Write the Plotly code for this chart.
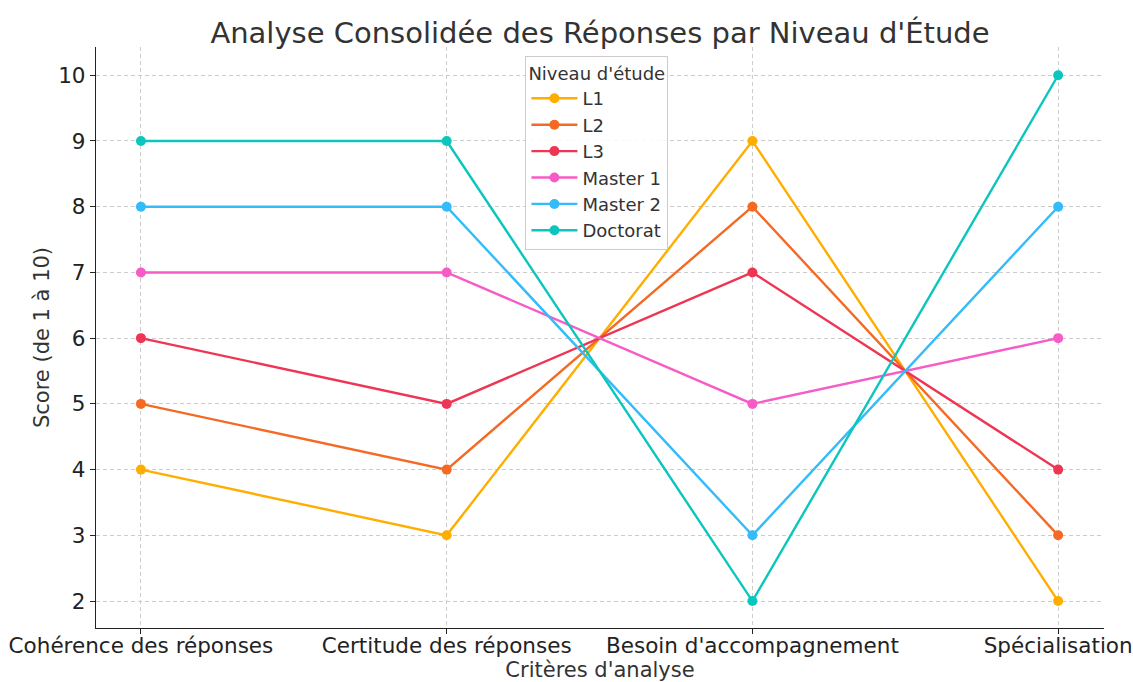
import plotly.graph_objects as go

criteres = ["Cohérence des réponses", "Certitude des réponses", "Besoin d'accompagnement", "Spécialisation"]
niveaux = ["L1", "L2", "L3", "Master 1", "Master 2", "Doctorat"]
l1 = [4, 3, 9, 2]
l2 = [5, 4, 8, 3]
l3 = [6, 5, 7, 4]
master1 = [7, 7, 5, 6]
master2 = [8, 8, 3, 8]
doctorat = [9, 9, 2, 10]
series = [l1, l2, l3, master1, master2, doctorat]
colors = ["#FFAE00", "#F46A25", "#EE3553", "#F75BC6", "#33BBFA", "#0CC6BE"]

fig = go.Figure()
for name, vals, c in zip(niveaux, series, colors):
    fig.add_trace(go.Scatter(
        x=criteres, y=vals, name=name, mode="lines+markers",
        line=dict(color=c, width=2.4), marker=dict(color=c, size=10),
    ))

font = "DejaVu Sans, sans-serif"
fig.update_layout(
    width=1133, height=682,
    paper_bgcolor="white", plot_bgcolor="white",
    font=dict(family=font, color="#333333"),
    margin=dict(l=96, r=29, t=47, b=54, autoexpand=False),
    title=dict(text="Analyse Consolidée des Réponses par Niveau d'Étude",
               xref="paper", x=0.5, xanchor="center", y=0.967, yanchor="top",
               font=dict(size=29, color="#333333"), automargin=False),
    legend=dict(title=dict(text="Niveau d'étude", font=dict(size=18)),
                x=0.426, y=0.985, xanchor="left", yanchor="top",
                bordercolor="#CCCCCC", borderwidth=1, bgcolor="rgba(255,255,255,0.85)",
                font=dict(size=18), tracegroupgap=0, itemwidth=46),
    showlegend=True,
)
fig.update_xaxes(
    title=dict(text="Critères d'analyse", font=dict(size=21), standoff=2),
    range=[-0.147, 3.15], showline=True, linecolor="#222222", linewidth=1.3,
    ticks="outside", ticklen=5, tickcolor="#222222", automargin=False,
    ticklabelstandoff=-7,
    showgrid=True, gridcolor="#CCCCCC", griddash="4px,3px", gridwidth=1,
    tickfont=dict(size=21.5, color="#222222"), zeroline=False,
)
fig.update_yaxes(
    title=dict(text="Score (de 1 à 10)", font=dict(size=21), standoff=2),
    range=[1.59, 10.43], dtick=1, showline=True, linecolor="#222222", linewidth=1.3,
    ticks="outside", ticklen=5, tickcolor="#222222", automargin=False,
    showgrid=True, gridcolor="#CCCCCC", griddash="4px,3px", gridwidth=1,
    tickfont=dict(size=21.5, color="#222222"), zeroline=False,
)
fig.write_html("out.html", config={"displayModeBar": False})

with open("out.html", "r", encoding="utf-8") as f:
    html = f.read()
html = html.replace("<head>", "<head><style>html,body{margin:0;padding:0;overflow:hidden;}</style>", 1)
with open("out.html", "w", encoding="utf-8") as f:
    f.write(html)
